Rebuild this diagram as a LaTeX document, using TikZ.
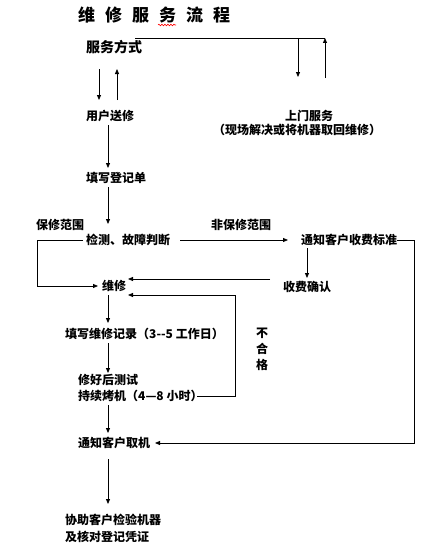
\documentclass[tikz,border=0pt]{standalone}
\usepackage{fontspec}
\setmainfont{Noto Sans CJK SC}
\usetikzlibrary{arrows.meta,decorations.pathmorphing}
\begin{document}
\begin{tikzpicture}[x=1pt,y=-1pt,
  arr/.style={-{Triangle[length=5pt,width=4pt]}, line width=0.8pt},
  ln/.style={line width=0.8pt},
  lbl/.style={font=\fontsize{12pt}{14pt}\selectfont\bfseries, inner sep=0pt, anchor=west}]
\useasboundingbox (0,0) rectangle (420,551);
% title
\node[lbl, font=\fontsize{17pt}{20pt}\selectfont\bfseries] (title) at (78,15) {维\hspace{10pt}修\hspace{10pt}服\hspace{10pt}务\hspace{10pt}流\hspace{10pt}程};
\draw[red, line width=0.6pt, decorate, decoration={snake, amplitude=0.8pt, segment length=3pt}] (158,25) -- (176,25);
% nodes
\node[lbl, font=\fontsize{14pt}{16pt}\selectfont\bfseries] (fw) at (86,47) {服务方式};
\node[lbl] (yh) at (86,116) {用户送修};
\node[lbl] (sm) at (285,116) {上门服务};
\node[lbl] (smx) at (213,130) {（现场解决或将机器取回维修）};
\node[lbl] (tx) at (86,178) {填写登记单};
\node[lbl] (jc) at (86,240) {检测、故障判断};
\node[lbl] (bx) at (36,225) {保修范围};
\node[lbl] (fbx) at (211,225) {非保修范围};
\node[lbl] (tz) at (301,240) {通知客户收费标准};
\node[lbl] (wx) at (102,286) {维修};
\node[lbl] (sf) at (283,287) {收费确认};
\node[lbl] (jl) at (65,334) {填写维修记录（3{-}{-}5 工作日）};
\node[lbl] (cs) at (78,380) {修好后测试};
\node[lbl] (kj) at (78,396) {持续烤机（4—8 小时）};
\node[lbl, anchor=center, align=center, font=\fontsize{12pt}{16pt}\selectfont\bfseries] (bhg) at (262,349) {不\\合\\格};
\node[lbl] (qj) at (78,443) {通知客户取机};
\node[lbl] (xz1) at (65,520) {协助客户检验机器};
\node[lbl] (xz2) at (65,537) {及核对登记凭证};
% coordinates
\coordinate (t1) at (135,38);
\coordinate (t2) at (298,38);
\coordinate (t3) at (325,38);
% connectors
\draw[ln] (t1) -- (t3);
\draw[arr] (t2) -- (298,77);
\draw[arr] (325,78) -- (t3);
\draw[arr] (99,69) -- (99,100);
\draw[arr] (117,100) -- (117,69);
\draw[arr] (108,125) -- (108,168);
\draw[arr] (108,187) -- (108,224);
\draw[arr] (180,240) -- (288,240);
\draw[arr] (83,240) -- (37,240) -- (37,286) -- (98,286);
\draw[arr] (397,240) -- (414,240) -- (414,443) -- (155,443);
\draw[arr] (307,248) -- (307,278);
\draw[arr] (270,279) -- (128,279);
\draw[arr] (197,396) -- (235,396) -- (235,295) -- (128,295);
\draw[arr] (108,295) -- (108,323);
\draw[arr] (108,343) -- (108,373);
\draw[arr] (108,405) -- (108,433);
\draw[arr] (108,459) -- (108,504);
\end{tikzpicture}
\end{document}
